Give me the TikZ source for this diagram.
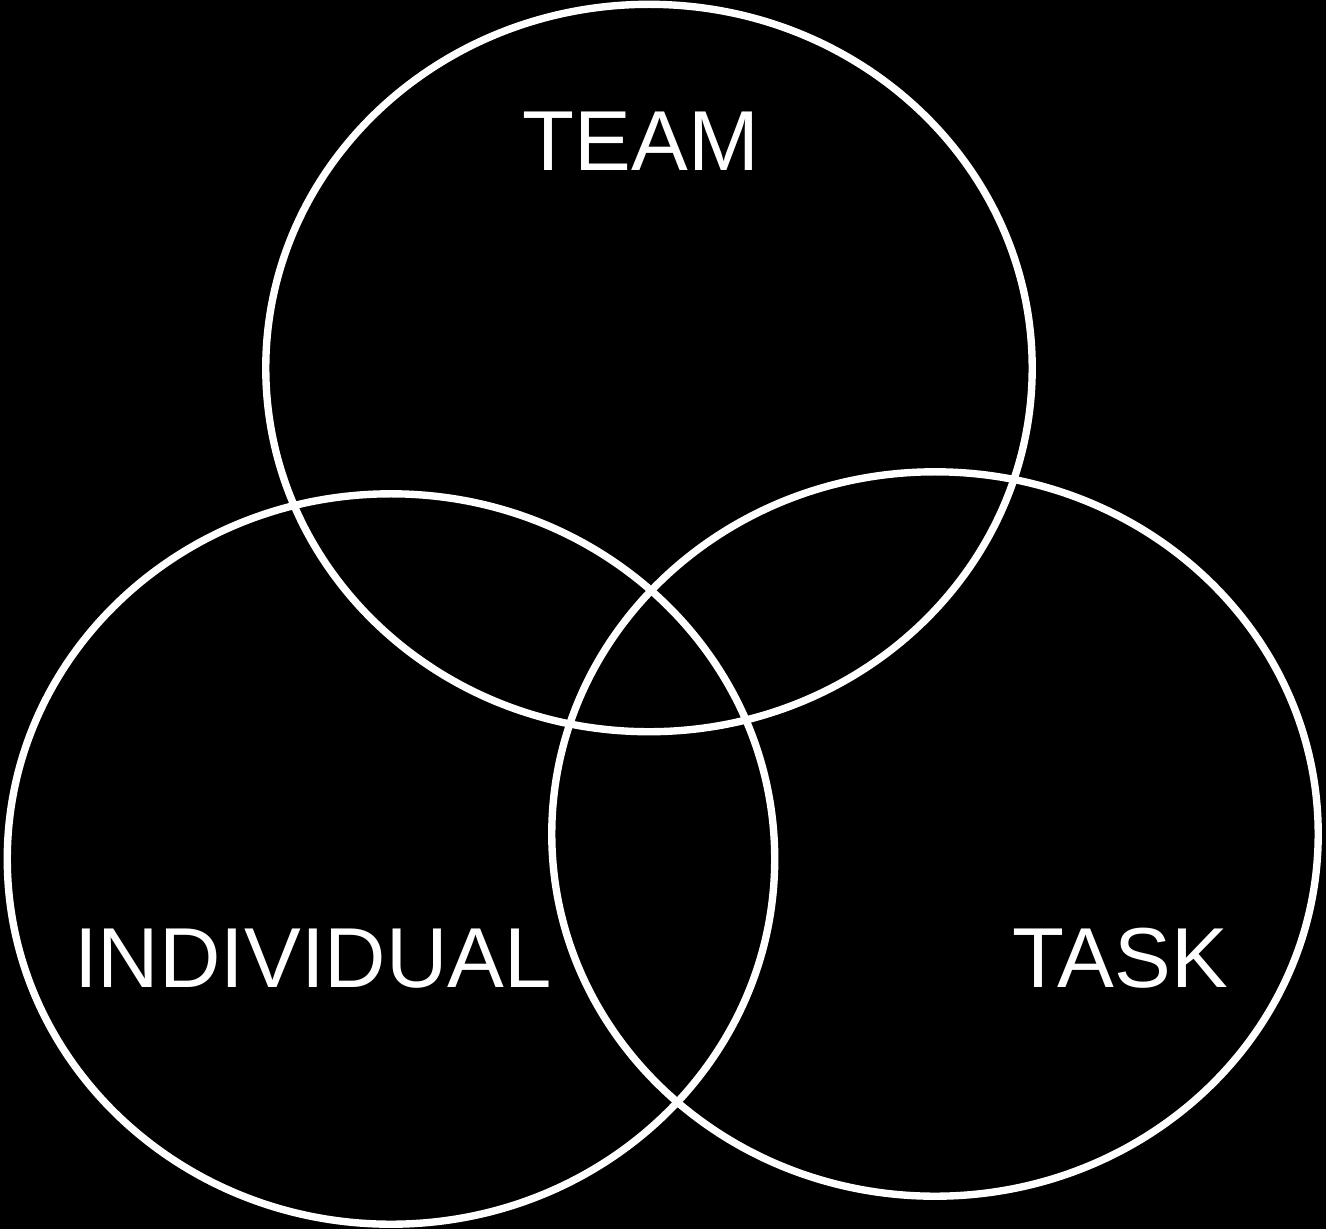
\documentclass[tikz,border=0pt]{standalone}
\usepackage{fontspec}
\setmainfont{Liberation Sans}
\usepackage{tikz}
\usetikzlibrary{shapes.geometric}

\begin{document}
\begin{tikzpicture}[x=0.01cm,y=-0.01cm,
                    ring/.style={ellipse,draw=white,line width=2.1pt,inner sep=0pt},
                    word/.style={text=white,anchor=base,inner sep=0pt,
                                 font=\fontsize{24.2}{29}\selectfont}]
  \fill[black] (0,0) rectangle (1326,1229);
  \useasboundingbox (0,0) rectangle (1326,1229);

  \node[ring,minimum width=7.66cm,minimum height=7.27cm] (team)  at (649,368) {};
  \node[ring,minimum width=7.67cm,minimum height=7.30cm] (indiv) at (391,859) {};
  \node[ring,minimum width=7.66cm,minimum height=7.24cm] (task)  at (935,834) {};

  \node[word] (teamlbl)  at (641,170) {TEAM};
  \node[word] (indivlbl) at (313,987) {INDIVIDUAL};
  \node[word] (tasklbl)  at (1120,987) {TASK};

\end{tikzpicture}
\end{document}
